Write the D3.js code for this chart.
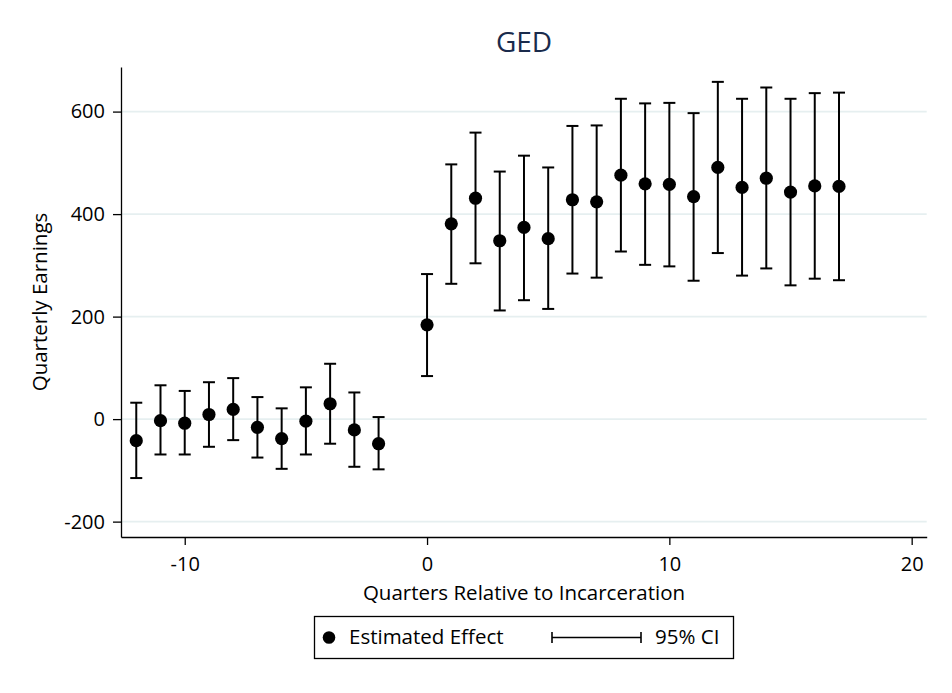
<!DOCTYPE html>
<html>
<head>
<meta charset="utf-8">
<script src="https://cdn.jsdelivr.net/npm/d3@7"></script>
<style>
  body { margin: 0; background: #fff; }
  svg { font-family: "Open Sans", "Noto Sans", sans-serif; }
</style>
</head>
<body>
<svg id="chart" width="952" height="693"></svg>
<script>
// event-study estimates
var quarters = [-12, -11, -10, -9, -8, -7, -6, -5, -4, -3, -2,
                0, 1, 2, 3, 4, 5, 6, 7, 8, 9, 10, 11, 12, 13, 14, 15, 16, 17];
var estimates = [-42, -3, -8, 9, 19, -16, -38, -4, 30, -21, -48,
                 184, 381, 431, 348, 374, 352, 428, 424, 476, 459, 458, 434, 491, 452, 470, 443, 455, 454];
var ciLow = [-115, -69, -69, -54, -41, -75, -97, -69, -48, -93, -98,
             84, 264, 304, 212, 232, 215, 284, 276, 327, 301, 298, 270, 324, 280, 294, 261, 274, 271];
var ciHigh = [32, 66, 55, 72, 80, 43, 21, 62, 108, 52, 4,
              283, 497, 559, 483, 514, 491, 572, 573, 625, 616, 617, 597, 658, 625, 647, 625, 636, 637];
var xTicks = [-10, 0, 10, 20];
var yTicks = [-200, 0, 200, 400, 600];

var svg = d3.select('#chart');

var x = d3.scaleLinear().domain([-12.63, 20.62]).range([121, 926.7]);
var y = d3.scaleLinear().domain([-230, 687]).range([537, 67]);

var points = quarters.map(function(q, i) {
  return { q: q, est: estimates[i], lo: ciLow[i], hi: ciHigh[i] };
});

// gridlines
svg.append('g')
  .selectAll('line')
  .data(yTicks)
  .join('line')
  .attr('x1', x.range()[0]).attr('x2', x.range()[1])
  .attr('y1', function(d) { return y(d); })
  .attr('y2', function(d) { return y(d); })
  .attr('stroke', '#e6eff0')
  .attr('stroke-width', 1.6);

// axes (plain hyphen for negatives, like the original)
var fmt = function(d) { return String(d); };
var xAxis = svg.append('g')
  .attr('transform', 'translate(0,537)')
  .call(d3.axisBottom(x).tickValues(xTicks).tickFormat(fmt)
    .tickSize(8).tickPadding(12).tickSizeOuter(0));
var yAxis = svg.append('g')
  .attr('transform', 'translate(121,0)')
  .call(d3.axisLeft(y).tickValues(yTicks).tickFormat(fmt)
    .tickSize(8).tickPadding(8).tickSizeOuter(0));

[xAxis, yAxis].forEach(function(a) {
  a.select('.domain').attr('stroke', '#000').attr('stroke-width', 1.3);
  a.selectAll('.tick line').attr('stroke', '#000').attr('stroke-width', 1.3);
  a.selectAll('.tick text')
    .attr('font-size', 20)
    .attr('fill', '#000')
    .style('font-family', '"Open Sans", "Noto Sans", sans-serif');
});

// confidence intervals
var ci = svg.append('g')
  .selectAll('g')
  .data(points)
  .join('g')
  .attr('stroke', '#000')
  .attr('stroke-width', 2);

ci.append('line')
  .attr('x1', function(d) { return x(d.q); })
  .attr('x2', function(d) { return x(d.q); })
  .attr('y1', function(d) { return y(d.lo); })
  .attr('y2', function(d) { return y(d.hi); });
ci.append('line')
  .attr('x1', function(d) { return x(d.q) - 6; })
  .attr('x2', function(d) { return x(d.q) + 6; })
  .attr('y1', function(d) { return y(d.hi); })
  .attr('y2', function(d) { return y(d.hi); });
ci.append('line')
  .attr('x1', function(d) { return x(d.q) - 6; })
  .attr('x2', function(d) { return x(d.q) + 6; })
  .attr('y1', function(d) { return y(d.lo); })
  .attr('y2', function(d) { return y(d.lo); });

// point estimates
svg.append('g')
  .selectAll('circle')
  .data(points)
  .join('circle')
  .attr('cx', function(d) { return x(d.q); })
  .attr('cy', function(d) { return y(d.est); })
  .attr('r', 6.6)
  .attr('fill', '#000');

// title and axis titles
svg.append('text')
  .attr('x', 524).attr('y', 52)
  .attr('text-anchor', 'middle')
  .attr('font-size', 28)
  .attr('fill', '#1a2b4c')
  .text('GED');

svg.append('text')
  .attr('x', 524).attr('y', 599.5)
  .attr('text-anchor', 'middle')
  .attr('font-size', 20.5)
  .text('Quarters Relative to Incarceration');

svg.append('text')
  .attr('transform', 'translate(47,302) rotate(-90)')
  .attr('text-anchor', 'middle')
  .attr('font-size', 20.5)
  .text('Quarterly Earnings');

// legend
var legend = svg.append('g');
legend.append('rect')
  .attr('x', 314.5).attr('y', 616.5)
  .attr('width', 419).attr('height', 42)
  .attr('fill', '#fff')
  .attr('stroke', '#000')
  .attr('stroke-width', 1.3);
legend.append('circle')
  .attr('cx', 329).attr('cy', 637.5).attr('r', 6.3)
  .attr('fill', '#000');
legend.append('text')
  .attr('x', 349).attr('y', 644)
  .attr('font-size', 20.5)
  .text('Estimated Effect');
legend.append('path')
  .attr('d', 'M552,637.5H641M552,632V643M641,632V643')
  .attr('stroke', '#000')
  .attr('stroke-width', 1.6)
  .attr('fill', 'none');
legend.append('text')
  .attr('x', 655).attr('y', 644)
  .attr('font-size', 20.5)
  .text('95% CI');
</script>
</body>
</html>
